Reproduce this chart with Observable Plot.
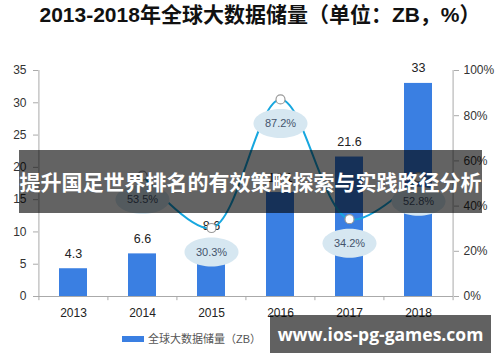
<!DOCTYPE html>
<html><head><meta charset="utf-8">
<script src="https://cdn.jsdelivr.net/npm/d3@7"></script>
<script src="https://cdn.jsdelivr.net/npm/@observablehq/plot@0.6"></script>
<style>
body{margin:0;background:#fff;}
#wrap{position:relative;width:500px;height:362px;overflow:hidden;font-family:"Liberation Sans","Noto Sans CJK SC",sans-serif;}
#title{position:absolute;left:0;top:3px;width:520px;text-align:center;font-size:21px;line-height:24px;font-weight:bold;color:#111;white-space:nowrap;}
#chart{position:absolute;left:0;top:48px;}
#legend{position:absolute;left:122px;top:332px;height:14px;font-size:11px;line-height:14px;color:#555;white-space:nowrap;}
#legend .sw{display:inline-block;width:22px;height:6px;background:#3a7fe2;vertical-align:middle;margin-right:4px;position:relative;top:-1px;}
#banner{position:absolute;left:19px;top:150px;width:463px;height:63px;background:rgba(0,0,0,0.61);color:#fff;font-family:"Noto Sans CJK SC",sans-serif;font-weight:bold;font-size:21px;line-height:63px;text-align:center;white-space:nowrap;overflow:hidden;}
#mark{position:absolute;left:270px;top:315px;width:221px;height:38px;background:rgba(0,0,0,0.62);color:#fff;font-family:"Open Sans","Noto Sans",sans-serif;font-weight:bold;font-size:17.5px;line-height:38px;text-align:center;white-space:nowrap;}
</style></head>
<body>
<div id="wrap">
  <div id="title"></div>
  <div id="chart"></div>
  <div id="legend"><span class="sw"></span><span id="legtext"></span></div>
  <div id="banner"></div>
  <div id="mark"></div>
</div>
<script>
const titleText = "2013-2018年全球大数据储量（单位：ZB，%）";
const bannerText = "提升国足世界排名的有效策略探索与实践路径分析";
const watermarkText = "www.ios-pg-games.com";
const legendLabel = "全球大数据储量（ZB）";

const years = ["2013","2014","2015","2016","2017","2018"];
const storage = [4.3, 6.6, 8.6, 16.1, 21.6, 33];
const growthYears = ["2014","2015","2016","2017","2018"];
const growth = [53.5, 30.3, 87.2, 34.2, 52.8];
const leftTicks = [0,5,10,15,20,25,30,35];
const rightTicks = [0,20,40,60,80,100];

document.getElementById("title").textContent = titleText;
document.getElementById("banner").textContent = bannerText;
document.getElementById("mark").textContent = watermarkText;
document.getElementById("legtext").textContent = legendLabel;

const yMax = 35;
const bars = years.map((year, i) => ({year, value: storage[i]}));
const rate = growthYears.map((year, i) => ({year, pct: growth[i], y: growth[i] * yMax / 100}));

const W = 500, H = 282, mL = 38, mR = 47, mT = 22, mB = 34;
const step = (W - mL - mR) / years.length;

const ellipse = {
  draw(ctx) {
    const rx = 27, ry = 14.5, k = 0.5523;
    ctx.moveTo(rx, 0);
    ctx.bezierCurveTo(rx, ry * k, rx * k, ry, 0, ry);
    ctx.bezierCurveTo(-rx * k, ry, -rx, ry * k, -rx, 0);
    ctx.bezierCurveTo(-rx, -ry * k, -rx * k, -ry, 0, -ry);
    ctx.bezierCurveTo(rx * k, -ry, rx, -ry * k, rx, 0);
    ctx.closePath();
  }
};

const axisGray = "#aaa";
const chart = Plot.plot({
  width: W, height: H,
  marginLeft: mL, marginRight: mR, marginTop: mT, marginBottom: mB,
  style: {fontFamily: "'Liberation Sans', Arial, sans-serif", background: "transparent"},
  x: {type: "band", domain: years, paddingInner: 0.6, paddingOuter: 0.3},
  y: {domain: [0, yMax]},
  marks: [
    Plot.barY(bars, {x: "year", y: "value", fill: "#3a7fe2"}),
    Plot.ruleY([0], {stroke: axisGray}),
    Plot.ruleX([years[0]], {dx: -step / 2, y1: 0, y2: yMax, stroke: axisGray}),
    Plot.ruleX([years[years.length - 1]], {dx: step / 2, y1: 0, y2: yMax, stroke: axisGray}),
    Plot.ruleX(years, {x: d => d, dx: -step / 2, y1: 0, y2: -0.65, stroke: axisGray}),
    Plot.ruleX([years[years.length - 1]], {dx: step / 2, y1: 0, y2: -0.65, stroke: axisGray}),
    Plot.axisY({anchor: "left", ticks: leftTicks, tickSize: 5, tickPadding: 7, fontSize: 12, label: null, stroke: axisGray, fill: "#333"}),
    Plot.axisY({anchor: "right", ticks: rightTicks.map(v => v * yMax / 100), tickFormat: d => Math.round(d * 100 / yMax) + "%", tickSize: 5, tickPadding: 5, fontSize: 12, label: null, stroke: axisGray, fill: "#333"}),
    Plot.axisX({anchor: "bottom", tickSize: 0, tickPadding: 12, fontSize: 12, label: null, fill: "#222"}),
    Plot.text(bars, {x: "year", y: "value", text: d => String(d.value), dy: -15, fontSize: 12.5, fill: "#222"}),
    Plot.line(rate, {x: "year", y: "y", curve: "catmull-rom", stroke: "#17a7df", strokeWidth: 2}),
    Plot.dot(rate, {x: "year", y: "y", dy: 24, symbol: ellipse, fill: "#d6e7f1", stroke: "none"}),
    Plot.text(rate, {x: "year", y: "y", dy: 24, text: d => d.pct.toFixed(1) + "%", fontSize: 11, fill: "#44546c"}),
    Plot.dot(rate, {x: "year", y: "y", r: 4.5, fill: "#fff", stroke: "#999", strokeWidth: 1.2})
  ]
});
document.getElementById("chart").appendChild(chart);
</script>
</body></html>
